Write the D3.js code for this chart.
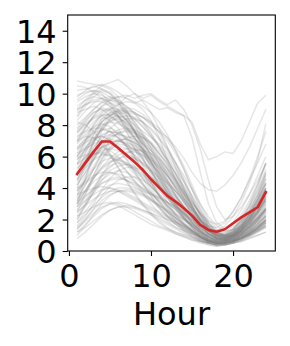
<!DOCTYPE html>
<html>
<head>
<meta charset="utf-8">
<script src="https://cdn.jsdelivr.net/npm/d3@7"></script>
<style>
  html, body { margin: 0; padding: 0; background: #fff; }
  svg { display: block; }
  text { font-family: "DejaVu Sans", sans-serif; fill: #000; }
</style>
</head>
<body>
<svg id="chart" width="290" height="346"></svg>
<script>
const hours = d3.range(1, 25);
const xTicks = [0, 10, 20];
const yTicks = [0, 2, 4, 6, 8, 10, 12, 14];
const xLabel = "Hour";

const meanValues = [4.9,5.6,6.3,6.96,6.96,6.54,6.1,5.65,5.16,4.56,4.03,3.5,3.14,2.72,2.25,1.66,1.34,1.23,1.38,1.76,2.14,2.46,2.78,3.74];

const profiles = [
  [10.8,10.7,10.6,10.5,10.7,10.9,10.5,10.0,9.5,8.8,7.8,6.6,5.3,4.0,2.8,1.8,1.1,0.8,0.9,1.3,1.9,2.4,2.8,3.2],
  [10.2,10.3,10.4,10.6,10.4,10.1,9.7,9.4,9.0,8.3,7.2,5.8,4.5,3.3,2.2,1.3,0.7,0.5,0.6,0.9,1.3,1.7,2.1,2.6],
  [9.0,9.6,10.1,10.5,10.3,9.8,9.0,8.0,7.0,6.0,5.0,4.0,3.0,2.2,1.5,1.0,0.6,0.5,0.6,0.8,1.1,1.4,1.8,2.2],
  [8.5,9.2,9.8,10.2,10.0,9.5,8.7,7.6,6.4,5.2,4.1,3.1,2.3,1.7,1.2,0.8,0.5,0.4,0.5,0.7,1.0,1.3,1.6,1.9],
  [9.5,9.8,10.0,9.9,9.6,9.3,9.8,10.0,9.7,9.9,9.5,9.2,8.9,8.6,7.2,5.0,3.0,1.8,1.4,1.8,2.6,3.6,4.8,6.0],
  [7.0,7.8,8.6,9.2,9.6,9.8,9.9,9.7,9.9,10.0,9.6,9.3,9.6,9.0,8.0,6.5,4.5,2.8,2.0,2.2,2.8,3.6,4.5,5.5],
  [6.5,7.2,8.0,8.6,9.0,9.3,9.5,9.4,9.6,9.3,9.0,9.1,8.8,8.6,8.2,6.8,5.8,6.0,6.3,6.2,7.0,8.2,9.4,9.9],
  [5.5,6.5,7.4,8.2,8.6,8.9,9.0,8.8,8.5,8.0,7.6,7.2,6.6,5.9,5.0,4.3,3.9,3.8,4.2,4.8,5.6,6.6,7.8,9.0],
  [8.0,8.5,9.0,9.4,9.6,9.5,9.2,8.8,8.2,7.5,6.6,5.6,4.6,3.6,2.6,1.7,1.1,0.9,1.0,1.4,2.0,2.8,3.8,5.0],
  [7.0,7.8,8.6,9.2,9.4,9.2,8.8,8.2,7.4,6.5,5.5,4.5,3.5,2.6,1.8,1.2,0.8,0.7,0.8,1.1,1.5,2.0,2.6,3.2],
  [6.0,7.0,8.0,8.8,9.0,8.8,8.3,7.6,6.8,6.0,5.1,4.3,3.5,2.8,2.1,1.5,1.0,0.8,0.9,1.2,1.7,2.3,3.0,3.8],
  [5.0,6.2,7.4,8.4,8.8,8.6,8.0,7.2,6.3,5.4,4.5,3.7,3.0,2.3,1.7,1.2,0.8,0.6,0.7,0.9,1.3,1.8,2.4,3.0],
  [8.8,9.0,9.2,9.0,8.6,8.2,7.8,7.2,6.5,5.7,4.8,3.9,3.0,2.2,1.5,0.9,0.6,0.5,0.6,0.8,1.1,1.5,1.9,2.4],
  [4.0,5.5,7.0,8.2,8.8,8.9,8.6,8.0,7.3,6.6,5.9,5.2,4.5,3.7,2.8,1.9,1.2,0.8,0.8,1.0,1.4,1.9,2.5,3.4],
  [3.0,4.6,6.2,7.6,8.4,8.6,8.4,8.0,7.6,7.2,6.8,6.2,5.4,4.4,3.3,2.2,1.4,1.0,1.0,1.3,1.8,2.5,3.3,4.3],
  [7.5,8.0,8.4,8.6,8.3,7.8,7.0,6.0,5.0,4.0,3.2,2.5,1.9,1.4,1.0,0.7,0.5,0.4,0.5,0.6,0.8,1.0,1.3,1.6],
  [6.8,7.4,7.9,8.1,7.9,7.4,6.7,5.9,5.1,4.3,3.5,2.8,2.2,1.7,1.3,0.9,0.6,0.5,0.6,0.8,1.1,1.5,2.0,2.6],
  [5.8,6.5,7.2,7.7,7.8,7.6,7.2,6.6,5.9,5.1,4.3,3.5,2.8,2.1,1.5,1.0,0.7,0.6,0.7,1.0,1.5,2.1,2.9,3.9],
  [4.5,5.5,6.5,7.3,7.6,7.5,7.2,6.8,6.3,5.7,5.0,4.3,3.6,2.9,2.2,1.6,1.1,0.8,0.8,1.0,1.4,2.0,2.8,3.8],
  [3.5,4.6,5.8,6.8,7.3,7.4,7.3,7.1,6.8,6.4,5.9,5.3,4.6,3.8,2.9,2.0,1.3,0.9,0.9,1.2,1.8,2.6,3.6,4.8],
  [5.0,5.8,6.6,7.2,7.4,7.2,6.7,6.0,5.2,4.4,3.6,2.9,2.3,1.8,1.3,0.9,0.6,0.5,0.5,0.7,1.0,1.4,1.8,2.3],
  [6.5,6.9,7.2,7.3,7.0,6.5,5.8,5.0,4.2,3.5,2.8,2.2,1.7,1.3,0.9,0.6,0.4,0.3,0.4,0.5,0.7,1.0,1.3,1.6],
  [4.2,5.0,5.8,6.5,6.9,7.0,6.8,6.4,5.8,5.1,4.4,3.7,3.0,2.4,1.8,1.3,0.9,0.7,0.7,0.9,1.2,1.6,2.1,2.7],
  [3.2,4.2,5.2,6.1,6.6,6.8,6.7,6.4,6.0,5.5,4.9,4.2,3.5,2.8,2.1,1.5,1.0,0.7,0.7,0.9,1.3,1.9,2.6,3.5],
  [2.5,3.6,4.8,5.9,6.5,6.7,6.5,6.1,5.6,5.0,4.4,3.8,3.2,2.6,2.0,1.4,0.9,0.6,0.6,0.8,1.1,1.5,2.0,2.6],
  [5.5,6.0,6.4,6.6,6.4,6.0,5.5,4.9,4.3,3.7,3.1,2.6,2.1,1.7,1.3,0.9,0.6,0.5,0.6,0.8,1.2,1.7,2.4,3.2],
  [4.8,5.3,5.8,6.1,6.1,5.9,5.6,5.2,4.7,4.1,3.5,2.9,2.3,1.8,1.3,0.9,0.6,0.5,0.5,0.7,0.9,1.2,1.5,1.9],
  [3.8,4.5,5.2,5.7,5.9,5.8,5.5,5.1,4.6,4.1,3.6,3.1,2.6,2.1,1.6,1.1,0.7,0.5,0.5,0.6,0.8,1.1,1.4,1.8],
  [3.0,3.8,4.6,5.3,5.7,5.8,5.6,5.3,4.9,4.4,3.9,3.4,2.9,2.4,1.9,1.4,1.0,0.7,0.7,0.9,1.3,1.8,2.5,3.3],
  [2.0,3.0,4.0,4.9,5.4,5.6,5.5,5.2,4.8,4.3,3.8,3.3,2.8,2.3,1.8,1.3,0.9,0.6,0.6,0.7,1.0,1.4,1.9,2.5],
  [4.0,4.4,4.8,5.0,5.0,4.8,4.5,4.1,3.7,3.3,2.9,2.5,2.1,1.7,1.3,1.0,0.7,0.5,0.5,0.6,0.8,1.0,1.3,1.6],
  [3.2,3.8,4.4,4.8,5.0,4.9,4.7,4.4,4.0,3.6,3.2,2.8,2.4,2.0,1.6,1.2,0.9,0.7,0.7,0.9,1.2,1.6,2.1,2.7],
  [2.4,3.0,3.7,4.3,4.6,4.7,4.5,4.2,3.9,3.6,3.3,3.0,2.7,2.3,1.9,1.5,1.1,0.8,0.8,1.0,1.3,1.7,2.2,2.8],
  [1.8,2.5,3.2,3.8,4.2,4.3,4.2,4.0,3.8,3.6,3.4,3.1,2.8,2.4,2.0,1.5,1.1,0.8,0.7,0.8,1.0,1.3,1.7,2.2],
  [3.6,3.8,4.0,4.1,4.0,3.8,3.5,3.2,2.9,2.6,2.3,2.0,1.7,1.4,1.1,0.8,0.6,0.5,0.5,0.6,0.8,1.1,1.4,1.8],
  [2.8,3.2,3.6,3.9,4.0,3.9,3.7,3.4,3.1,2.8,2.5,2.2,1.9,1.6,1.3,1.0,0.7,0.6,0.6,0.7,0.9,1.2,1.5,1.9],
  [1.5,2.0,2.6,3.2,3.6,3.8,3.8,3.7,3.5,3.2,2.9,2.6,2.3,2.0,1.6,1.2,0.9,0.7,0.7,0.9,1.2,1.6,2.1,2.7],
  [1.2,1.7,2.2,2.7,3.0,3.1,3.0,2.8,2.6,2.4,2.2,2.0,1.8,1.6,1.3,1.0,0.7,0.5,0.5,0.6,0.8,1.0,1.3,1.6],
  [0.8,1.2,1.7,2.2,2.6,2.8,2.9,2.8,2.6,2.4,2.1,1.8,1.5,1.3,1.1,0.9,0.7,0.6,0.6,0.7,0.9,1.1,1.4,1.7],
  [2.2,2.5,2.8,3.0,3.1,3.0,2.8,2.5,2.2,1.9,1.6,1.4,1.2,1.0,0.8,0.6,0.5,0.4,0.4,0.5,0.6,0.8,1.0,1.2],
  [1.0,1.6,2.3,3.0,3.5,3.8,3.9,3.8,3.6,3.3,2.9,2.5,2.1,1.7,1.4,1.1,0.8,0.6,0.6,0.7,0.9,1.2,1.6,2.1],
  [1.4,1.9,2.4,2.8,3.0,2.9,2.6,2.3,2.0,1.7,1.5,1.3,1.1,0.9,0.7,0.6,0.5,0.4,0.5,0.6,0.8,1.1,1.5,2.0],
  [7.5,8.2,8.8,9.1,9.0,8.5,7.8,7.0,6.2,5.4,4.6,3.9,3.2,2.5,1.9,1.3,0.9,0.7,0.8,1.1,1.6,2.3,3.2,4.3],
  [6.2,7.0,7.8,8.4,8.5,8.2,7.6,6.8,5.9,5.0,4.2,3.4,2.7,2.1,1.6,1.1,0.7,0.5,0.5,0.7,1.0,1.4,1.9,2.5],
  [5.2,6.0,6.9,7.8,8.3,8.4,8.2,7.7,7.1,6.4,5.6,4.8,4.0,3.2,2.4,1.7,1.1,0.8,0.8,1.0,1.4,2.0,2.8,3.8],
  [8.6,9.4,10.0,10.3,10.1,9.6,8.9,8.2,7.5,6.8,6.0,5.2,4.3,3.4,2.5,1.7,1.1,0.8,0.8,1.1,1.6,2.3,3.1,4.0],
  [9.8,10.2,10.5,10.3,10.0,9.4,8.6,7.6,6.6,5.6,4.6,3.7,2.9,2.2,1.6,1.1,0.7,0.6,0.7,0.9,1.3,1.8,2.4,3.1],
  [4.5,5.6,6.8,7.8,8.4,8.7,8.8,8.7,8.5,8.2,7.8,7.2,6.4,5.4,4.2,3.0,2.0,1.4,1.2,1.4,1.9,2.6,3.5,4.6],
  [3.8,4.8,5.9,7.0,7.8,8.2,8.4,8.4,8.2,7.8,7.2,6.5,5.6,4.6,3.5,2.4,1.6,1.1,1.0,1.2,1.7,2.4,3.3,4.4],
  [6.0,6.8,7.6,8.2,8.6,8.8,8.9,8.8,8.5,8.1,7.6,7.0,6.2,5.2,4.0,2.8,1.8,1.2,1.1,1.4,2.1,3.0,4.2,5.6],
  [7.8,8.4,9.0,9.5,9.7,9.8,9.7,9.5,9.2,8.8,8.2,7.4,6.4,5.2,3.9,2.6,1.6,1.1,1.0,1.3,1.9,2.8,3.9,5.2],
  [2.8,3.6,4.6,5.6,6.4,6.9,7.2,7.3,7.2,6.9,6.4,5.8,5.0,4.1,3.2,2.3,1.6,1.1,1.0,1.2,1.6,2.3,3.2,4.3],
  [2.0,2.8,3.8,4.8,5.6,6.1,6.3,6.3,6.1,5.8,5.3,4.7,4.0,3.3,2.6,1.9,1.3,0.9,0.8,1.0,1.4,2.0,2.8,3.8],
  [1.6,2.2,3.0,3.9,4.6,5.1,5.3,5.3,5.1,4.7,4.2,3.6,3.0,2.4,1.8,1.3,0.9,0.6,0.6,0.8,1.1,1.6,2.3,3.2],
  [6.6,7.1,7.5,7.7,7.6,7.2,6.6,5.8,5.0,4.2,3.5,2.9,2.4,2.0,1.7,1.4,1.2,1.1,1.2,1.6,2.3,3.2,4.3,5.6],
  [5.8,6.4,7.0,7.4,7.6,7.5,7.1,6.5,5.8,5.0,4.2,3.5,2.9,2.4,2.0,1.6,1.3,1.1,1.1,1.4,2.0,2.9,4.1,5.6],
  [9.2,9.6,9.8,9.7,9.4,8.9,8.3,7.6,6.9,6.1,5.3,4.5,3.8,3.1,2.5,1.9,1.4,1.1,1.0,1.2,1.6,2.2,3.0,4.0],
  [3.4,4.2,5.2,6.2,7.0,7.5,7.7,7.6,7.2,6.6,5.8,4.9,4.0,3.1,2.3,1.6,1.1,0.8,0.8,1.0,1.4,2.0,2.9,4.0],
  [4.8,5.8,6.9,7.9,8.6,9.0,9.1,9.0,8.7,8.2,7.5,6.6,5.6,4.5,3.4,2.3,1.5,1.0,0.9,1.1,1.5,2.1,2.9,3.9],
  [7.2,7.9,8.5,8.9,9.1,9.0,8.8,8.4,7.9,7.3,6.6,5.8,4.9,3.9,2.9,2.0,1.3,0.9,0.8,1.0,1.5,2.2,3.1,4.2],
  [5.5,5.9,6.2,6.3,6.1,5.7,5.1,4.4,3.7,3.0,2.4,1.9,1.5,1.2,0.9,0.7,0.5,0.4,0.4,0.5,0.7,0.9,1.2,1.5],
  [9.0,9.3,9.6,9.7,9.5,9.0,8.4,7.6,6.7,5.7,4.7,3.7,2.8,2.0,1.4,0.9,0.6,0.5,0.5,0.7,1.0,1.3,1.7,2.2],
  [2.6,3.2,3.9,4.5,4.9,5.1,5.0,4.7,4.2,3.7,3.1,2.5,2.0,1.6,1.2,0.9,0.6,0.5,0.5,0.6,0.8,1.0,1.3,1.7],
  [1.2,1.5,1.9,2.3,2.6,2.8,2.8,2.7,2.5,2.3,2.0,1.7,1.4,1.1,0.9,0.7,0.5,0.4,0.4,0.5,0.6,0.8,1.0,1.2],
  [4.2,5.0,5.8,6.6,7.2,7.5,7.6,7.5,7.2,6.8,6.2,5.5,4.7,3.9,3.1,2.4,1.9,1.7,1.9,2.5,3.4,4.6,6.0,7.6],
  [3.0,3.8,4.8,5.8,6.6,7.0,7.1,6.9,6.5,5.9,5.2,4.4,3.6,2.8,2.2,1.7,1.4,1.3,1.6,2.2,3.1,4.3,5.8,8.1],
  [6.4,7.0,7.6,8.0,8.2,8.1,7.8,7.2,6.5,5.7,4.9,4.1,3.4,2.8,2.3,1.9,1.6,1.5,1.8,2.5,3.4,4.5,5.6,6.8],
  [8.2,8.0,7.6,7.0,6.2,5.3,4.4,3.6,2.9,2.3,1.8,1.4,1.1,0.9,0.7,0.5,0.4,0.3,0.4,0.5,0.7,0.9,1.2,1.5],
  [7.0,7.3,7.2,6.8,6.1,5.3,4.5,3.7,3.0,2.4,1.9,1.5,1.2,1.0,0.8,0.6,0.5,0.4,0.4,0.5,0.7,1.0,1.4,1.9],
  [9.6,10.0,10.2,10.0,9.4,8.6,7.6,6.5,5.4,4.4,3.5,2.7,2.1,1.6,1.2,0.9,0.6,0.5,0.5,0.7,0.9,1.2,1.6,2.0],
  [6.0,6.6,7.1,7.3,7.1,6.6,5.9,5.1,4.3,3.5,2.8,2.2,1.7,1.3,1.0,0.7,0.5,0.4,0.4,0.6,0.8,1.1,1.5,2.0],
  [4.4,5.2,6.0,6.6,6.8,6.6,6.1,5.4,4.6,3.8,3.0,2.4,1.9,1.5,1.1,0.8,0.6,0.5,0.5,0.6,0.8,1.1,1.5,2.0],
  [3.6,4.5,5.4,6.2,6.8,7.1,7.1,6.9,6.5,6.0,5.4,4.8,4.2,3.6,3.0,2.4,1.8,1.3,1.0,1.0,1.2,1.6,2.2,3.0],
  [5.6,6.3,7.0,7.7,8.2,8.5,8.6,8.5,8.2,7.7,7.1,6.4,5.6,4.8,3.9,3.0,2.2,1.6,1.3,1.3,1.6,2.1,2.8,3.7],
  [7.6,8.1,8.5,8.7,8.6,8.3,7.9,7.4,6.8,6.2,5.6,5.0,4.4,3.8,3.1,2.4,1.7,1.2,1.0,1.1,1.4,1.9,2.6,3.5],
  [2.2,2.9,3.7,4.5,5.1,5.4,5.5,5.4,5.1,4.7,4.2,3.7,3.2,2.7,2.2,1.7,1.3,1.0,0.9,1.0,1.3,1.8,2.5,3.4],
  [1.8,2.3,2.9,3.4,3.8,4.0,4.0,3.9,3.6,3.2,2.8,2.3,1.9,1.5,1.2,0.9,0.7,0.5,0.5,0.6,0.8,1.1,1.4,1.8],
  [3.1,3.5,3.9,4.3,4.5,4.6,4.5,4.3,4.0,3.7,3.4,3.1,2.8,2.5,2.1,1.7,1.3,1.0,0.9,1.1,1.5,2.1,2.9,3.9],
  [6.9,7.6,8.2,8.6,8.7,8.5,8.1,7.6,7.0,6.4,5.7,5.0,4.3,3.6,2.8,2.0,1.3,0.8,0.6,0.6,0.8,1.1,1.5,2.0],
  [8.3,8.9,9.4,9.7,9.8,9.6,9.2,8.7,8.1,7.4,6.7,6.0,5.2,4.4,3.5,2.6,1.8,1.2,0.9,0.9,1.1,1.5,2.1,2.9],
  [10.5,10.4,10.1,9.7,9.2,8.6,7.9,7.2,6.4,5.6,4.8,4.0,3.2,2.5,1.8,1.2,0.8,0.6,0.6,0.8,1.1,1.5,2.0,2.7],
  [5.3,5.7,6.1,6.4,6.5,6.4,6.2,5.9,5.5,5.1,4.7,4.3,3.8,3.3,2.7,2.1,1.5,1.1,0.9,1.0,1.3,1.8,2.5,3.4],
  [2.5,2.9,3.3,3.6,3.8,3.8,3.6,3.3,3.0,2.7,2.4,2.1,1.8,1.5,1.2,0.9,0.7,0.5,0.5,0.6,0.9,1.3,1.9,2.7],
  [4.6,5.4,6.2,6.9,7.4,7.7,7.8,7.7,7.4,6.9,6.2,5.4,4.5,3.6,2.7,1.9,1.3,0.9,0.8,1.0,1.5,2.3,3.4,4.9],
  [3.9,4.3,4.7,5.2,5.6,5.9,6.0,5.9,5.6,5.2,4.6,4.0,3.4,2.8,2.2,1.7,1.3,1.0,0.9,1.0,1.3,1.8,2.5,3.5],
  [6.2,6.5,6.8,7.0,7.1,7.0,6.8,6.5,6.1,5.6,5.0,4.4,3.8,3.2,2.6,2.0,1.5,1.1,1.0,1.2,1.7,2.5,3.6,5.0],
  [1.4,2.0,2.7,3.5,4.1,4.5,4.7,4.7,4.5,4.1,3.6,3.1,2.6,2.1,1.7,1.3,1.0,0.8,0.7,0.8,1.0,1.3,1.7,2.2],
  [8.9,9.3,9.5,9.5,9.2,8.8,8.3,7.8,7.3,6.8,6.2,5.6,4.9,4.1,3.2,2.3,1.5,1.0,0.8,0.9,1.2,1.7,2.4,3.3],
  [7.3,7.6,7.8,7.8,7.6,7.2,6.7,6.1,5.5,4.8,4.1,3.4,2.7,2.1,1.6,1.2,0.9,0.7,0.7,0.9,1.3,1.9,2.7,3.7],
  [2.9,3.4,4.0,4.7,5.3,5.8,6.2,6.4,6.4,6.2,5.8,5.2,4.5,3.7,2.9,2.1,1.5,1.0,0.8,0.9,1.1,1.5,2.0,2.6],
  [4.9,5.5,6.1,6.6,6.9,7.0,6.9,6.7,6.3,5.8,5.2,4.5,3.8,3.1,2.4,1.8,1.3,1.0,0.9,1.1,1.5,2.1,2.9,4.0],
  [9.9,10.1,10.2,10.1,9.8,9.4,8.9,8.4,7.9,7.3,6.6,5.8,4.9,3.9,2.9,2.0,1.3,0.9,0.8,1.0,1.4,2.0,2.8,3.8],
  [5.9,6.1,6.2,6.2,6.0,5.6,5.1,4.5,3.9,3.3,2.7,2.2,1.8,1.4,1.1,0.8,0.6,0.5,0.5,0.6,0.8,1.1,1.4,1.8],
  [3.3,3.9,4.6,5.3,5.9,6.3,6.5,6.5,6.3,5.9,5.4,4.8,4.1,3.4,2.7,2.0,1.4,0.9,0.7,0.7,0.9,1.2,1.7,2.3],
  [7.7,8.3,8.8,9.0,8.9,8.6,8.1,7.5,6.9,6.2,5.5,4.8,4.1,3.4,2.7,2.0,1.4,1.0,0.9,1.1,1.6,2.3,3.3,4.6]
];

const svg = d3.select("#chart");
const plotLeft = 67.7, plotRight = 275.3, plotTop = 15, plotBottom = 251;

const x = d3.scaleLinear().domain([-0.15, 25.15]).range([plotLeft, plotRight]);
const y = d3.scaleLinear().domain([0, 15]).range([plotBottom, plotTop]);

const line = d3.line().x((d, i) => x(hours[i])).y(d => y(d));

const plot = svg.append("g");
plot.selectAll("path.profile")
  .data(profiles)
  .enter().append("path")
  .attr("class", "profile")
  .attr("d", line)
  .attr("fill", "none")
  .attr("stroke", "#808080")
  .attr("stroke-opacity", 0.2)
  .attr("stroke-width", 1.5)
  .attr("stroke-linejoin", "round");

plot.append("path")
  .datum(meanValues)
  .attr("d", line)
  .attr("fill", "none")
  .attr("stroke", "#d62728")
  .attr("stroke-width", 2.6)
  .attr("stroke-linejoin", "round")
  .attr("stroke-linecap", "square");

const xAxis = d3.axisBottom(x).tickValues(xTicks).tickSize(5).tickPadding(4);
const yAxis = d3.axisLeft(y).tickValues(yTicks).tickSize(5).tickPadding(6);

const gx = svg.append("g").attr("transform", `translate(0,${plotBottom})`).call(xAxis);
const gy = svg.append("g").attr("transform", `translate(${plotLeft},0)`).call(yAxis);
[gx, gy].forEach(g => {
  g.select(".domain").remove();
  g.selectAll(".tick line").attr("stroke", "#000").attr("stroke-width", 1.1);
  g.selectAll(".tick text").attr("font-family", "DejaVu Sans").attr("font-size", 32).attr("fill", "#000");
});
gx.selectAll(".tick text").attr("dy", null).attr("y", 36);
gy.selectAll(".tick text").attr("dy", "0.36em");

svg.append("rect")
  .attr("x", plotLeft).attr("y", plotTop)
  .attr("width", plotRight - plotLeft).attr("height", plotBottom - plotTop)
  .attr("fill", "none").attr("stroke", "#000").attr("stroke-width", 1.1);

svg.append("text")
  .attr("x", (plotLeft + plotRight) / 2)
  .attr("y", 325)
  .attr("text-anchor", "middle")
  .attr("font-size", 32)
  .text(xLabel);
</script>
</body>
</html>
